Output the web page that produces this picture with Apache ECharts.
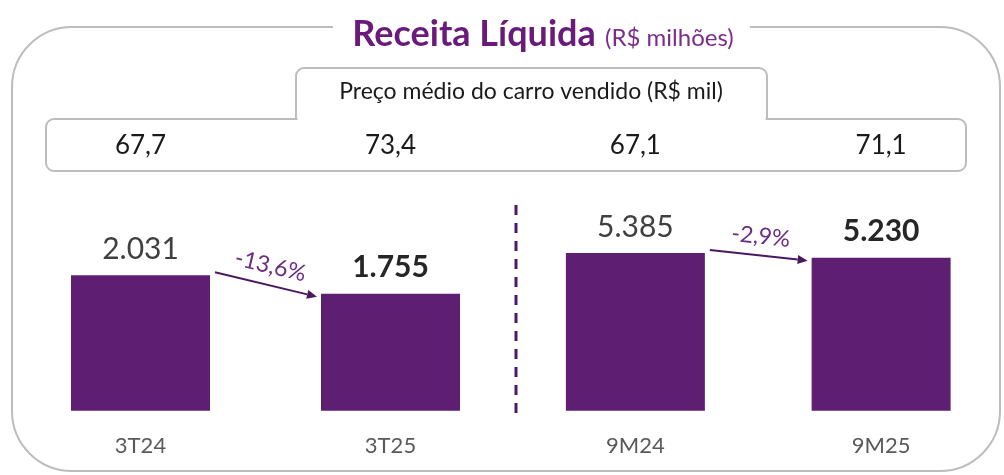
<!DOCTYPE html>
<html>
<head>
<meta charset="utf-8">
<script src="https://cdn.jsdelivr.net/npm/echarts@6/dist/echarts.min.js"></script>
<style>
  html, body { margin: 0; padding: 0; background: #fff; }
  #chart { width: 1004px; height: 475px; }
</style>
</head>
<body>
<div id="chart"></div>
<script>
// dados
const periods3T = ['3T24', '3T25']
const revenue3T = [2031, 1755]
const periods9M = ['9M24', '9M25']
const revenue9M = [5385, 5230]
const avgPrice3T = [67.7, 73.4]
const avgPrice9M = [67.1, 71.1]

const FONT = 'Lato'
const PURPLE = '#5E1F73'
const BORDER = '#BDBDBD'
const BAR_W = 139

const fmtThousand = v => String(v).replace(/\B(?=(\d{3})+(?!\d))/g, '.')
const fmtDec = v => v.toFixed(1).replace('.', ',')
const pctChange = arr => ((arr[1] / arr[0] - 1) * 100).toFixed(1).replace('.', ',') + '%'

const chart = echarts.init(document.getElementById('chart'))

function barData(values) {
  return values.map((v, i) => ({
    value: v,
    label: {
      fontWeight: i === 1 ? 'bold' : 'normal',
      color: i === 1 ? '#262626' : '#404040'
    }
  }))
}

const barSeries = (idx, values) => ({
  type: 'bar',
  xAxisIndex: idx * 2,
  yAxisIndex: idx,
  barWidth: BAR_W,
  itemStyle: { color: PURPLE },
  label: {
    show: true,
    position: 'top',
    distance: 11,
    fontFamily: FONT,
    fontSize: 30,
    formatter: p => fmtThousand(p.value)
  },
  data: barData(values),
  silent: true
})

const bottomAxis = (gridIndex, cats) => ({
  type: 'category',
  gridIndex: gridIndex,
  data: cats,
  axisLine: { show: false },
  axisTick: { show: false },
  axisLabel: { color: '#595959', fontFamily: FONT, fontSize: 22, margin: 24 }
})

const topAxis = (gridIndex, prices) => ({
  type: 'category',
  gridIndex: gridIndex,
  position: 'top',
  data: prices.map(fmtDec),
  axisLine: { show: false },
  axisTick: { show: false },
  axisLabel: { color: '#1a1a1a', fontFamily: FONT, fontSize: 26, margin: 41 }
})

chart.setOption({
  animation: false,
  grid: [
    { left: 15.5, width: 500, top: 200, height: 210.7 },
    { left: 512.5, width: 499, top: 200, height: 210.7 }
  ],
  xAxis: [
    bottomAxis(0, periods3T),
    topAxis(0, avgPrice3T),
    bottomAxis(1, periods9M),
    topAxis(1, avgPrice9M)
  ],
  yAxis: [
    { type: 'value', gridIndex: 0, min: 0, max: 3160, show: false },
    { type: 'value', gridIndex: 1, min: 0, max: 7200, show: false }
  ],
  series: [barSeries(0, revenue3T), barSeries(1, revenue9M)]
})

// setas de variação, posicionadas a partir das barras
function arrowGraphics(gridIdx, values) {
  const p1 = chart.convertToPixel({ xAxisIndex: gridIdx * 2, yAxisIndex: gridIdx }, [0, values[0]])
  const p2 = chart.convertToPixel({ xAxisIndex: gridIdx * 2, yAxisIndex: gridIdx }, [1, values[1]])
  const x1 = p1[0] + BAR_W / 2 + 5
  const y1 = p1[1] - 3
  const x2 = p2[0] - BAR_W / 2 - 4
  const y2 = p2[1] + 3
  const ang = Math.atan2(y2 - y1, x2 - x1)
  const head = 10
  const hw = 4.5
  const bx = x2 - head * Math.cos(ang)
  const by = y2 - head * Math.sin(ang)
  const nx = -Math.sin(ang)
  const ny = Math.cos(ang)
  const mx = (x1 + x2) / 2
  const my = (y1 + y2) / 2
  return [
    {
      type: 'line', z: 10,
      shape: { x1: x1, y1: y1, x2: bx, y2: by },
      style: { stroke: '#4A1860', lineWidth: 2 }
    },
    {
      type: 'polygon', z: 10,
      shape: { points: [[x2, y2], [bx + nx * hw, by + ny * hw], [bx - nx * hw, by - ny * hw]] },
      style: { fill: '#4A1860' }
    },
    {
      type: 'text', z: 10,
      x: mx + 19 * Math.sin(ang), y: my - 19 * Math.cos(ang),
      rotation: -ang,
      style: {
        text: pctChange(values),
        fontFamily: FONT, fontSize: 23, fill: '#6B2D82',
        textAlign: 'center', textVerticalAlign: 'middle'
      }
    }
  ]
}

chart.setOption({
  graphic: [
    // moldura externa
    {
      type: 'rect', z: 1, silent: true,
      shape: { x: 12, y: 27, width: 988, height: 444, r: 60 },
      style: { fill: 'none', stroke: BORDER, lineWidth: 2 }
    },
    {
      type: 'rect', z: 2, silent: true,
      shape: { x: 333, y: 10, width: 417, height: 34 },
      style: { fill: '#fff' }
    },
    {
      type: 'text', z: 3, x: 543, y: 32,
      style: {
        text: '{b|Receita Líquida} {n|(R$ milhões)}',
        textAlign: 'center', textVerticalAlign: 'middle',
        rich: {
          b: { fontFamily: FONT, fontSize: 36, fontWeight: 'bold', fill: '#6A1A7A', lineHeight: 40, verticalAlign: 'bottom' },
          n: { fontFamily: FONT, fontSize: 24, fill: '#7B2C8C', lineHeight: 30, verticalAlign: 'bottom', padding: [0, 0, 2, 6] }
        }
      }
    },
    // caixa do preço médio (caixa + aba)
    {
      type: 'rect', z: 1, silent: true,
      shape: { x: 46, y: 119, width: 920, height: 52, r: 8 },
      style: { fill: 'none', stroke: BORDER, lineWidth: 2 }
    },
    {
      type: 'rect', z: 2, silent: true,
      shape: { x: 296, y: 68, width: 471, height: 51, r: [8, 8, 0, 0] },
      style: { fill: '#fff', stroke: BORDER, lineWidth: 2 }
    },
    {
      type: 'rect', z: 2, silent: true,
      shape: { x: 297.5, y: 112, width: 468, height: 10 },
      style: { fill: '#fff' }
    },
    {
      type: 'text', z: 3, x: 531, y: 92,
      style: {
        text: 'Preço médio do carro vendido (R$ mil)',
        fontFamily: FONT, fontSize: 23, fill: '#1a1a1a',
        textAlign: 'center', textVerticalAlign: 'middle'
      }
    },
    // divisória tracejada
    {
      type: 'line', z: 3, silent: true,
      shape: { x1: 516, y1: 205, x2: 516, y2: 418 },
      style: { stroke: '#4E1A63', lineWidth: 3, lineDash: [10, 8] }
    }
  ].concat(arrowGraphics(0, revenue3T), arrowGraphics(1, revenue9M))
})
</script>
</body>
</html>
